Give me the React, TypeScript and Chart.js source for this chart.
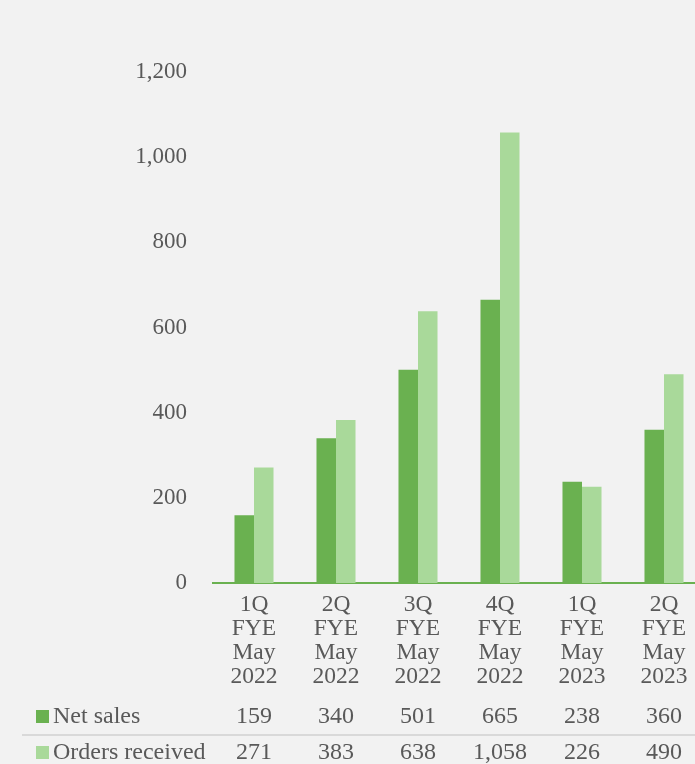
import React, { useEffect, useRef } from "react";
import { Chart, registerables } from "chart.js";

Chart.register(...registerables);

const categories: string[][] = [
  ["1Q", "FYE", "May", "2022"],
  ["2Q", "FYE", "May", "2022"],
  ["3Q", "FYE", "May", "2022"],
  ["4Q", "FYE", "May", "2022"],
  ["1Q", "FYE", "May", "2023"],
  ["2Q", "FYE", "May", "2023"],
];
const netSales = [159, 340, 501, 665, 238, 360];
const ordersReceived = [271, 383, 638, 1058, 226, 490];
const seriesNames = ["Net sales", "Orders received"];
const yTicks = [0, 200, 400, 600, 800, 1000, 1200];

const DARK = "#6ab150";
const LIGHT = "#a9d99a";
const TEXT = "#595959";
const FONT = '"Liberation Serif", "Times New Roman", serif';

const fmt = (v: number) => v.toLocaleString("en-US");

const dataTablePlugin = {
  id: "dataTable",
  afterDraw(chart: any) {
    const ctx = chart.ctx;
    const x = chart.scales.x;
    const rows = [
      { name: seriesNames[0], color: DARK, values: netSales, y: 717 },
      { name: seriesNames[1], color: LIGHT, values: ordersReceived, y: 753 },
    ];
    ctx.save();
    ctx.strokeStyle = "#d9d9d9";
    ctx.lineWidth = 2;
    ctx.beginPath();
    ctx.moveTo(22, 735);
    ctx.lineTo(chart.width, 735);
    ctx.stroke();
    ctx.font = `24px ${FONT}`;
    ctx.textBaseline = "middle";
    rows.forEach((r) => {
      ctx.fillStyle = r.color;
      ctx.fillRect(36, r.y - 7, 13, 13);
      ctx.fillStyle = TEXT;
      ctx.textAlign = "left";
      ctx.fillText(r.name, 53, r.y);
      ctx.textAlign = "center";
      r.values.forEach((v, i) => {
        ctx.fillText(fmt(v), x.getPixelForValue(i), r.y);
      });
    });
    ctx.restore();
  },
};

export default function App() {
  const ref = useRef<HTMLCanvasElement>(null);
  useEffect(() => {
    if (!ref.current) return;
    const chart = new Chart(ref.current, {
      type: "bar",
      data: {
        labels: categories,
        datasets: [
          { label: seriesNames[0], data: netSales, backgroundColor: DARK },
          { label: seriesNames[1], data: ordersReceived, backgroundColor: LIGHT },
        ],
      },
      options: {
        animation: false,
        responsive: false,
        maintainAspectRatio: false,
        layout: { padding: { top: 72, bottom: 0, left: 0, right: 0 } },
        datasets: { bar: { categoryPercentage: 0.476, barPercentage: 1 } },
        plugins: {
          legend: { display: false },
          tooltip: { enabled: false },
        },
        scales: {
          x: {
            grid: { display: false, drawTicks: false },
            border: { display: true, color: "#6ab150", width: 2 },
            ticks: {
              color: TEXT,
              font: { family: FONT, size: 23.5, lineHeight: "24px" },
              padding: 10,
              maxRotation: 0,
              autoSkip: false,
            },
            afterFit: (s: any) => {
              s.height = 181;
            },
          },
          y: {
            min: 0,
            max: 1200,
            afterBuildTicks: (s: any) => {
              s.ticks = yTicks.map((v) => ({ value: v }));
            },
            grid: { display: false, drawTicks: false },
            border: { display: false },
            ticks: {
              color: TEXT,
              font: { family: FONT, size: 23 },
              padding: 26,
              callback: (v: any) => fmt(Number(v)),
            },
            afterFit: (s: any) => {
              s.width = 213;
            },
          },
        },
      },
      plugins: [dataTablePlugin],
    });
    return () => chart.destroy();
  }, []);
  return (
    <div
      style={{
        position: "fixed",
        left: 0,
        top: 0,
        width: 695,
        height: 764,
        overflow: "hidden",
        background: "#f2f2f2",
      }}
    >
      <canvas ref={ref} width={705} height={764} style={{ display: "block" }} />
    </div>
  );
}
